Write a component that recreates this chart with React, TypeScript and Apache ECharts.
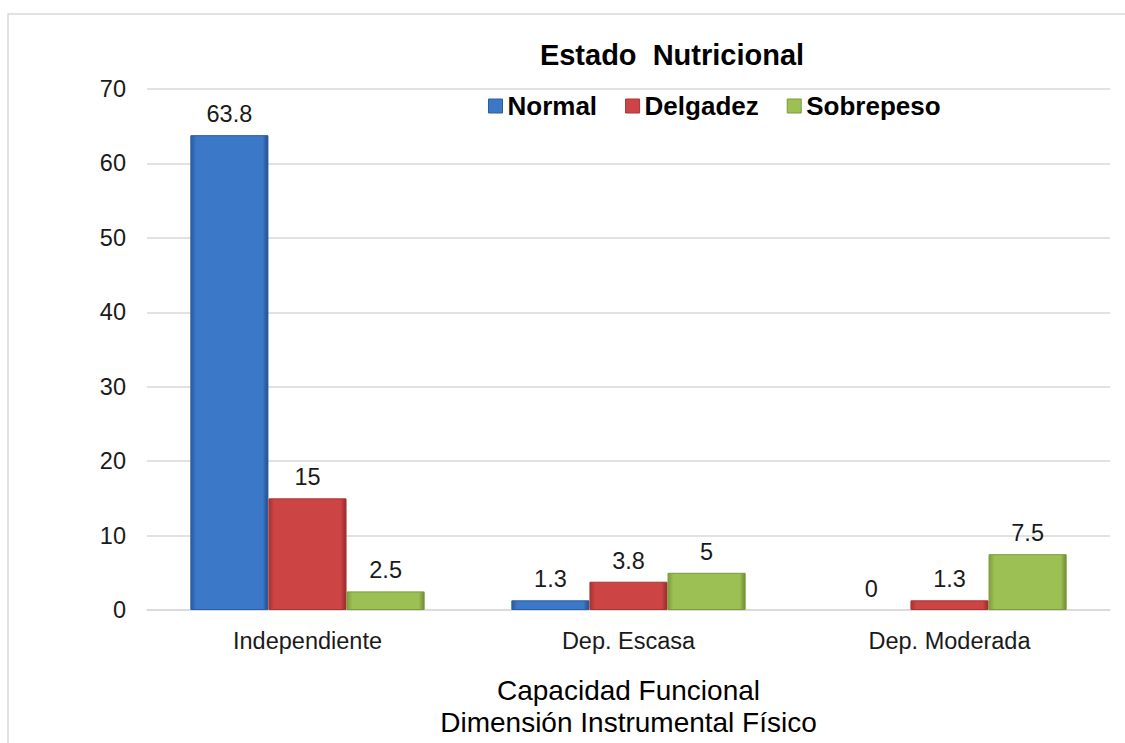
import React, { useEffect, useRef } from "react";
import * as echarts from "echarts";

const categories = ["Independiente", "Dep. Escasa", "Dep. Moderada"];
const normal = [63.8, 1.3, 0];
const delgadez = [15, 3.8, 1.3];
const sobrepeso = [2.5, 5, 7.5];
const seriesNames = ["Normal", "Delgadez", "Sobrepeso"];
const yTicks = { min: 0, max: 70, interval: 10 };

function bevel(edge: string, mid: string, dark: string) {
  return new echarts.graphic.LinearGradient(0, 0, 1, 0, [
    { offset: 0, color: edge },
    { offset: 0.07, color: mid },
    { offset: 0.93, color: mid },
    { offset: 1, color: dark },
  ]);
}

export default function App() {
  const ref = useRef<HTMLDivElement>(null);
  useEffect(() => {
    if (!ref.current) return;
    const chart = echarts.init(ref.current, null, { renderer: "svg" });
    const font = "Arial, 'Liberation Sans', sans-serif";
    const label = {
      show: true,
      position: "top" as const,
      distance: 9,
      fontSize: 23.5,
      fontFamily: font,
      color: "#1a1a1a",
    };
    const styles = [
      { color: bevel("#2a5aa0", "#3b78c8", "#234d8a"), borderColor: "#2c5e9f" },
      { color: bevel("#a83232", "#cd4444", "#962b2b"), borderColor: "#a83535" },
      { color: bevel("#7f9e3c", "#9cc054", "#6f8c33"), borderColor: "#7c9a3d" },
    ];
    const legendColors = ["#3b78c8", "#cd4444", "#9cc054"];
    const data = [normal, delgadez, sobrepeso];
    chart.setOption({
      animation: false,
      backgroundColor: "#ffffff",
      title: {
        text: "Estado  Nutricional",
        left: 667,
        textAlign: "center",
        top: 35,
        textStyle: { fontSize: 29, fontWeight: "bold", fontFamily: font, color: "#000" },
      },
      legend: {
        data: seriesNames.map((n, i) => ({
          name: n,
          itemStyle: { color: legendColors[i], borderWidth: 1, borderColor: styles[i].borderColor },
        })),
        left: 488,
        top: 93,
        padding: 0,
        icon: "rect",
        itemWidth: 14,
        itemHeight: 14,
        itemGap: 28,
        textStyle: { fontSize: 26, fontWeight: "bold", fontFamily: font, color: "#000" },
      },
      graphic: [
        {
          type: "rect",
          shape: { x: 8, y: 14, width: 1200, height: 800 },
          style: { fill: "none", stroke: "#d9d9d9", lineWidth: 1.5 },
          silent: true,
        },
      ],
      grid: { left: 147, right: 15, top: 89, bottom: 133, containLabel: false },
      xAxis: {
        type: "category",
        data: categories,
        axisLine: { show: true, lineStyle: { color: "#d9d9d9", width: 1.5 } },
        axisTick: { show: false },
        axisLabel: { fontSize: 23.5, fontFamily: font, color: "#1a1a1a", margin: 19 },
        name: "Capacidad Funcional\nDimensión Instrumental Físico",
        nameLocation: "middle",
        nameGap: 64,
        nameTextStyle: { fontSize: 28, fontFamily: font, color: "#000", lineHeight: 32 },
      },
      yAxis: {
        type: "value",
        min: yTicks.min,
        max: yTicks.max,
        interval: yTicks.interval,
        axisLine: { show: false },
        axisTick: { show: false },
        splitLine: { lineStyle: { color: "#d9d9d9", width: 1.5 } },
        axisLabel: { fontSize: 23.5, fontFamily: font, color: "#1a1a1a", margin: 21 },
      },
      series: seriesNames.map((n, i) => ({
        name: n,
        type: "bar",
        data: data[i].map((v) =>
          v === 0 ? { value: v, itemStyle: { borderWidth: 0, color: "rgba(0,0,0,0)" } } : v
        ),
        barGap: "0%",
        barCategoryGap: "27%",
        itemStyle: { ...styles[i], borderWidth: 1 },
        label,
      })),
    });
    return () => chart.dispose();
  }, []);
  return (
    <div
      ref={ref}
      style={{ position: "absolute", left: 0, top: 0, width: 1125, height: 743 }}
    />
  );
}
